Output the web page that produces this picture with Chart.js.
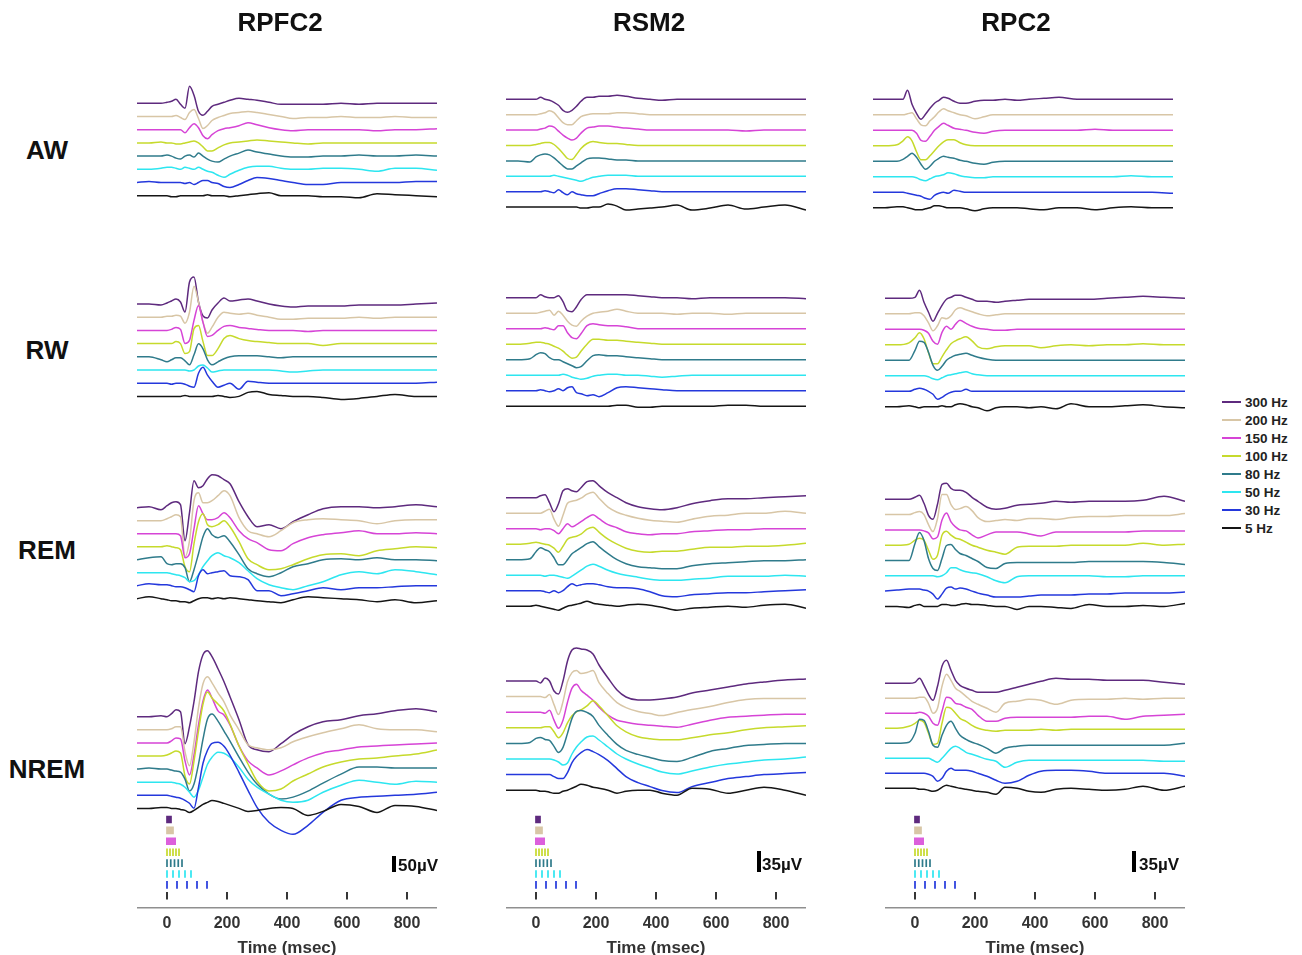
<!DOCTYPE html>
<html>
<head>
<meta charset="utf-8">
<script src="https://cdn.jsdelivr.net/npm/chart.js@4.4.1/dist/chart.umd.min.js"></script>
<style>
  body { margin: 0; background: #fff; width: 1302px; height: 955px; position: relative; overflow: hidden;
         font-family: "Liberation Sans", Arial, sans-serif; }
  canvas { position: absolute; }
  .lbl { position: absolute; font-weight: bold; color: #111; white-space: nowrap; transform: translate(-50%, -50%); }
  .bar { position: absolute; background: #000; }
  .sb { position: absolute; font-weight: bold; font-size: 17px; line-height: 16px; color: #111; }
  .leg { position: absolute; font-weight: bold; font-size: 13.5px; line-height: 13px; color: #222; }
  .legline { position: absolute; height: 1.5px; width: 19px; }
</style>
</head>
<body>
<script>
// ---- data ----
const timesMs = [-100,-60,-20,0,15,30,45,60,75,90,105,120,135,150,170,190,210,240,270,300,340,380,420,470,520,580,640,700,760,830,900];
const freqLabels = ['300 Hz','200 Hz','150 Hz','100 Hz','80 Hz','50 Hz','30 Hz','5 Hz'];
const pulseRatesHz = [300,200,150,100,80,50,30,5];
const timeTicks = [0,200,400,600,800];
const regionNames = ['RPFC2','RSM2','RPC2'];
const stateNames = ['AW','RW','REM','NREM'];
const scaleBarLabels = ['50µV','35µV','35µV'];

// deflection from each trace's baseline (screen px at the plot's scale, up = positive), one row per frequency
const rpfc2AW = [
  [0,0,0,1,2,4,-1,-5,17,8,-8,-12,-8,-3,-1,1,3,5,4,3,1,-1,-1,-1,-1,0,-1,0,0,0,0],
  [0,0,0,0,0,1,-1,-3,4,7,-2,-12,-9,-4,-1,1,3,4,5,4,2,0,-2,-1,-1,0,-1,-1,0,-1,-1],
  [0,0,0,0,0,0,0,-3,2,6,2,-6,-9,-5,-1,1,2,4,7,5,2,0,-1,0,0,0,0,-1,0,0,1],
  [0,0,1,0,0,-1,-1,0,1,2,0,-4,-8,-8,-5,-2,0,1,2,3,2,1,0,-1,0,0,0,0,0,0,0],
  [0,0,0,1,0,-2,-3,0,1,-1,3,0,-3,-5,-6,-3,0,3,6,4,2,0,-1,-1,0,0,1,0,0,1,0],
  [0,0,1,2,2,1,0,2,1,0,2,0,-2,-3,-6,-8,-5,-1,2,3,3,1,0,0,1,1,0,-2,1,1,-1],
  [0,1,0,0,0,0,0,-1,0,-2,0,2,2,0,-1,-4,-5,-2,2,5,4,2,0,-2,-2,0,0,0,0,1,1],
  [0,0,0,0,-1,-1,0,0,0,0,0,0,1,0,0,0,-1,0,1,2,3,0,0,0,-1,-1,-2,2,1,0,-1]
];
const rsm2AW = [
  [0,0,0,0,2,0,-1,-3,-6,-11,-13,-11,-7,-2,2,2,3,3,4,3,1,0,-1,0,0,0,0,0,0,0,0],
  [0,0,0,0,1,2,4,2,-3,-8,-10,-10,-6,-2,0,1,1,1,2,2,1,0,0,0,0,0,0,0,0,0,0],
  [0,0,0,0,1,2,4,3,-1,-5,-8,-10,-8,-3,2,3,4,4,3,2,1,0,0,0,0,0,0,-1,0,0,0],
  [0,0,0,1,2,3,3,1,-3,-8,-13,-14,-9,-3,2,4,3,2,2,1,0,0,0,0,0,0,0,0,0,0,0],
  [0,0,-1,4,6,7,6,3,-1,-5,-8,-8,-5,-2,2,3,3,2,1,1,0,0,0,0,0,0,0,0,0,0,0],
  [0,0,0,0,0,0,0,1,0,-1,-2,-3,-4,-5,-3,-1,0,1,1,1,0,0,0,0,0,0,0,0,0,0,0],
  [0,0,0,0,0,1,0,-1,2,-1,-3,0,-2,-3,-4,-4,-2,1,3,3,2,1,0,0,0,0,0,0,0,0,0],
  [0,0,0,0,0,0,0,0,0,0,0,0,0,-1,-1,0,0,3,1,-3,-2,-1,0,2,-3,-1,2,-2,0,2,-3]
];
const rpc2AW = [
  [0,0,0,0,9,-5,-14,-20,-15,-9,-4,-1,2,1,-2,-4,-4,-2,-1,-1,0,-1,0,1,2,0,0,0,0,0,0],
  [0,0,0,0,1,2,-4,-10,-11,-6,-2,3,6,4,2,0,-1,-4,-2,0,0,0,0,0,0,0,0,0,0,0,0],
  [0,0,0,0,0,0,-3,-10,-11,-6,0,4,7,5,2,1,0,-2,-3,-1,0,0,0,0,0,0,1,0,0,0,0],
  [0,0,1,5,9,5,-6,-14,-14,-10,-5,0,4,6,6,3,1,0,0,0,0,0,0,0,0,0,0,0,0,0,0],
  [0,0,0,2,5,8,4,-3,-8,-5,0,3,5,4,3,1,0,-2,-3,-1,0,0,0,0,0,0,0,0,0,0,0],
  [0,0,0,0,0,0,-1,-3,-4,-2,0,1,2,4,3,1,0,-1,-1,0,0,0,0,0,0,0,0,0,1,0,0],
  [0,0,0,0,-1,-2,-3,-4,-6,-7,-3,-1,0,-1,2,1,0,0,0,0,0,0,0,0,0,0,0,0,0,0,-1],
  [0,0,1,1,0,-1,-2,-2,-1,0,2,2,1,0,0,0,-1,-3,-1,0,0,0,-1,-2,0,0,-2,0,1,0,0]
];
const rpfc2RW = [
  [0,0,-1,1,3,5,2,-8,22,27,2,-12,-14,-6,1,6,3,4,5,3,0,-2,-3,-2,-2,-2,-1,-1,-1,0,1],
  [0,0,0,1,1,2,1,-6,5,31,15,-5,-16,-10,0,5,4,3,4,2,0,-2,-2,-1,-1,-1,0,-1,0,0,0],
  [0,0,0,0,1,3,1,-13,-10,10,25,8,-6,-5,0,4,5,3,2,1,0,0,0,-1,0,0,0,0,0,0,0],
  [0,0,0,0,0,2,0,-10,-8,15,18,2,-12,-12,-5,5,8,5,3,2,1,0,0,0,-2,0,0,0,0,0,0],
  [0,0,-3,-5,-3,-1,-1,-4,-8,2,13,8,-3,-8,-5,-2,0,1,1,1,0,-1,0,0,0,0,0,0,0,0,0],
  [0,0,0,0,0,0,0,0,-1,0,4,5,2,-2,-1,0,0,0,0,0,0,-1,-2,-1,0,0,0,0,0,0,0],
  [0,0,0,0,-1,0,0,-1,-3,-4,10,16,8,2,-4,-2,0,-6,2,1,0,0,0,0,0,0,0,0,0,0,1],
  [0,0,0,0,0,0,0,1,0,0,0,0,0,0,1,0,-1,0,4,5,2,1,0,0,-1,-3,-2,0,2,0,0]
];
const rsm2RW = [
  [0,0,0,0,3,1,0,0,2,-4,-13,-14,-9,-2,3,3,3,3,3,3,2,1,0,0,-1,0,0,0,0,0,-1],
  [0,0,0,0,1,2,3,-2,2,-2,-8,-12,-13,-8,-3,0,1,2,4,2,0,0,0,-1,0,0,-1,0,0,0,0],
  [0,0,0,0,0,1,0,-1,3,3,-4,-9,-10,-5,3,5,4,3,3,2,0,0,0,0,0,0,0,0,0,0,0],
  [0,0,1,2,2,1,0,-2,-4,-7,-11,-14,-13,-7,0,5,5,4,4,3,2,1,0,0,0,0,0,0,0,0,0],
  [0,0,1,5,7,6,2,0,0,-2,-4,-6,-8,-7,-1,4,5,4,4,3,2,1,0,0,0,0,0,0,0,0,0],
  [0,0,0,0,0,0,0,0,0,1,0,-2,-3,-4,-3,-1,0,1,1,0,0,-1,-2,-1,0,0,0,0,0,0,0],
  [0,0,0,0,1,0,-1,0,2,0,3,4,-2,-3,-5,-4,-6,-2,3,4,3,2,1,0,0,0,0,0,0,0,0],
  [0,0,0,0,0,0,0,0,0,0,0,0,0,0,0,0,0,0,1,1,-1,-1,0,0,0,0,1,1,0,0,0]
];
const rpc2RW = [
  [0,0,0,1,8,-4,-14,-23,-15,-7,-1,1,3,3,1,-1,-3,-3,-4,-3,-2,-1,-1,-1,-1,-1,0,1,2,1,0],
  [0,0,0,1,1,-2,-9,-17,-12,-4,-5,-2,4,6,4,2,0,-2,-1,0,0,0,0,0,0,0,0,0,0,0,0],
  [0,0,0,0,0,-1,-4,-12,-15,-3,3,0,5,9,6,3,1,0,-1,-1,0,0,0,0,0,0,0,0,0,0,0],
  [0,0,2,7,12,6,-8,-19,-19,-12,-5,1,4,6,8,4,-2,-4,-2,-1,-1,-1,-3,-1,0,-1,0,0,1,0,0],
  [0,0,0,10,19,18,8,-5,-10,-6,0,3,5,6,7,5,3,1,0,0,0,0,0,0,0,0,0,0,0,0,0],
  [0,0,0,0,0,0,-1,-3,-4,-2,0,1,2,3,4,2,1,0,0,0,0,0,0,0,0,0,0,0,0,0,0],
  [0,0,0,2,3,2,0,-3,-8,-6,-3,-1,0,0,2,0,0,0,0,0,0,0,0,0,0,0,0,0,0,0,0],
  [0,0,1,0,-1,0,0,0,0,1,0,0,2,3,2,0,-1,-4,-1,0,0,-1,0,-2,3,0,0,1,2,0,-1]
];
const rpfc2REM = [
  [0,1,-2,2,5,6,3,-33,-5,27,20,22,29,33,32,28,24,6,-9,-19,-17,-21,-14,-7,-1,1,1,0,1,3,1],
  [0,0,0,2,4,6,4,-36,-20,20,28,18,18,20,25,30,25,3,-10,-13,-16,-10,-2,1,2,1,0,-3,0,1,1],
  [0,0,0,0,0,0,-2,-24,-20,5,28,20,14,14,16,21,16,3,-5,-9,-16,-17,-10,-4,-1,1,3,0,0,1,0],
  [0,0,0,1,0,-1,-3,-20,-25,3,25,33,22,20,22,26,20,5,-12,-18,-23,-22,-18,-12,-8,-7,-9,-4,-2,0,-1],
  [0,2,3,-4,-5,-4,-4,-8,-22,-10,6,23,31,25,22,24,18,5,-9,-14,-17,-13,-7,-4,0,1,0,2,0,0,-1],
  [0,0,0,0,-1,-2,-3,-5,-9,-8,-2,6,12,17,20,17,15,10,2,-6,-12,-15,-17,-13,-9,-2,1,-1,3,1,-2],
  [0,2,1,1,0,-1,-1,-2,-4,-6,10,16,12,13,14,15,10,9,6,-5,-5,-10,-8,-5,-2,-4,-2,-2,-1,0,0],
  [0,2,0,-1,-2,-2,-3,-3,-4,-2,0,1,1,0,1,0,1,0,-1,-2,-3,-4,-1,2,1,0,-1,-3,-1,-4,-2]
];
const rsm2REM = [
  [0,0,0,0,2,3,-5,-14,-6,7,9,7,6,10,16,17,12,5,0,-5,-9,-11,-12,-10,-6,-3,-1,-1,0,1,2],
  [0,0,0,0,0,2,4,-6,-13,-2,10,12,13,15,19,21,15,6,1,-2,-5,-7,-8,-9,-6,-3,-2,0,0,2,0],
  [0,0,0,0,-1,0,0,-2,-5,0,5,2,4,7,11,14,10,4,1,-3,-5,-6,-5,-5,-3,-2,-1,-1,0,0,0],
  [0,0,1,2,1,0,-1,-4,-8,-2,5,7,8,10,15,17,12,5,0,-4,-7,-8,-7,-7,-5,-3,-3,-2,-2,-1,1],
  [0,0,1,8,12,10,8,2,-5,-5,0,6,9,12,16,18,13,6,0,-4,-7,-8,-9,-9,-6,-4,-3,-2,-1,-1,0],
  [0,0,0,0,0,-1,0,0,-1,-2,-3,-1,2,5,9,11,9,5,2,0,-2,-4,-5,-5,-4,-3,-1,-1,-1,0,-1],
  [0,0,0,0,0,-1,-2,0,-2,0,4,7,5,6,7,7,6,4,3,3,2,-1,-5,-6,-4,-3,-2,-2,-1,0,1],
  [0,0,0,1,0,-1,-2,-3,-4,-2,0,1,2,3,5,3,2,1,0,1,2,1,-1,-4,-2,-1,0,-1,1,2,-2]
];
const rpc2REM = [
  [0,0,0,2,4,-4,-16,-20,-5,15,16,11,9,9,7,2,-2,-8,-10,-9,-6,-5,-4,-2,-3,-2,-2,-2,-1,3,-2],
  [0,0,0,2,3,0,-10,-17,-4,20,20,10,5,6,8,4,-3,-7,-6,-5,-6,-4,-4,-5,-3,-2,-2,-1,-1,-1,1],
  [0,0,0,0,0,-1,-3,-9,-7,10,17,8,3,0,-1,-5,-8,-5,-2,-2,-2,-4,-6,-2,-2,-2,-2,-2,-1,-1,-1],
  [0,0,1,5,7,5,-5,-14,-10,10,14,10,7,6,3,0,-2,-5,-7,-9,-2,-1,-1,-1,0,0,0,0,2,0,1],
  [0,0,0,17,28,20,2,-8,-10,2,15,16,11,7,5,2,-1,-7,-8,-3,-2,-2,-2,-2,-2,-1,-1,-1,-1,-2,-4],
  [0,0,0,0,0,0,0,0,-1,0,3,8,8,6,4,3,2,-1,-5,-7,-1,0,0,0,0,0,-1,-1,0,0,0],
  [0,1,2,2,2,1,0,-3,-8,-3,3,4,2,3,2,0,-2,-4,-6,-6,-6,-5,-4,-4,-4,-3,-3,-2,-2,-2,-1],
  [0,0,-1,1,2,0,0,0,0,2,2,1,1,2,3,2,2,1,0,0,-3,0,0,-1,-2,2,0,0,1,0,3]
];
const rpfc2NREM = [
  [0,0,1,0,3,7,5,-27,-10,15,45,62,66,60,48,35,20,-3,-28,-33,-35,-27,-18,-10,-5,-3,1,3,6,8,5],
  [0,0,0,0,1,3,3,-22,-36,-12,22,46,53,47,37,28,15,0,-15,-18,-20,-18,-12,-7,-3,1,5,1,0,0,-2],
  [0,0,0,0,2,5,4,-18,-32,-12,18,42,53,45,32,28,18,-3,-18,-25,-32,-28,-22,-15,-10,-7,-4,-3,-2,-1,0],
  [0,0,0,1,3,5,3,-20,-28,-5,25,52,64,58,52,45,32,10,-8,-25,-35,-33,-25,-18,-11,-6,-3,-2,0,2,6],
  [0,1,0,0,-1,-2,-3,-10,-22,-15,5,30,50,55,48,38,28,12,-3,-15,-25,-30,-28,-22,-14,-5,2,2,1,1,1],
  [0,0,0,0,0,-1,-2,-5,-10,-15,-8,5,18,25,30,29,25,15,3,-5,-12,-18,-20,-18,-10,-3,2,0,-2,1,0],
  [0,0,0,0,-1,-2,-3,-5,-8,-13,8,32,45,52,53,49,40,23,5,-12,-27,-35,-39,-30,-17,-5,-2,-1,0,1,3],
  [0,0,1,1,0,0,-1,-2,-4,-2,1,4,6,8,7,5,3,0,-3,-2,0,1,0,-7,-3,4,2,-4,3,2,-2]
];
const rsm2NREM = [
  [0,0,0,0,-2,3,0,-10,-13,0,20,31,33,32,31,27,16,3,-9,-16,-19,-19,-18,-16,-12,-9,-6,-3,-1,1,2],
  [0,0,0,0,0,-1,2,-8,-18,-5,15,24,26,23,24,26,14,3,-6,-11,-15,-17,-19,-16,-13,-10,-6,-3,-2,-2,-2],
  [0,0,0,0,0,-1,2,-8,-16,-8,10,24,28,22,17,12,5,-3,-8,-10,-12,-13,-14,-15,-12,-8,-5,-4,-3,-2,-2],
  [0,0,0,0,0,1,1,-4,-10,-5,5,12,16,18,22,27,22,12,2,-4,-9,-11,-12,-12,-10,-7,-5,-2,0,1,2],
  [0,0,1,5,6,4,3,-3,-9,-4,10,25,32,33,31,27,18,8,-1,-7,-11,-14,-17,-18,-14,-8,-5,-2,-1,0,0],
  [0,0,0,0,0,0,0,-1,-3,-6,-4,5,12,17,22,23,19,12,5,0,-5,-9,-13,-15,-12,-8,-5,-3,-1,0,2],
  [0,0,0,0,0,0,0,-2,-4,-4,2,12,18,22,25,23,20,14,6,-2,-8,-12,-16,-18,-12,-8,-4,-2,0,1,2],
  [0,0,0,0,-1,-1,-2,-3,-3,-1,0,2,4,6,5,3,2,0,-3,-1,0,0,-3,-5,2,1,-3,0,3,0,-5]
];
const rpc2NREM = [
  [0,0,0,1,5,-2,-11,-17,-3,17,23,13,3,-2,-5,-7,-9,-9,-9,-7,-4,-1,2,5,4,4,3,3,3,1,-1],
  [0,0,0,0,1,1,-5,-15,-10,12,24,18,10,7,2,-3,-6,-10,-14,-5,-3,-1,-2,-6,-2,-1,-1,0,-1,0,0],
  [0,0,0,0,1,0,-3,-10,-12,2,16,15,10,9,6,4,-2,-8,-8,-5,-4,-4,-4,-4,-4,-3,-3,-6,-3,-2,-1],
  [0,0,2,5,8,6,-5,-16,-15,5,21,20,15,10,7,3,0,-2,-3,-2,-2,-2,-1,-2,-1,-1,-1,-1,-1,-1,-1],
  [0,0,1,10,24,23,12,-2,-4,8,18,22,15,8,4,1,-1,-5,-10,-5,-3,-2,-2,-2,-2,-2,-2,-2,-2,-2,0],
  [0,0,0,0,0,0,0,-2,-4,0,5,10,12,10,6,4,2,-1,-3,-9,-4,-2,-2,-2,-2,-2,-2,-2,-2,-3,-3],
  [0,0,0,0,0,0,-1,-3,-8,-5,2,5,3,3,3,2,0,-3,-7,-10,-8,-2,2,3,3,2,0,0,0,0,-3],
  [0,0,0,0,-1,-1,-2,-3,-2,1,3,2,1,0,-1,-2,-3,-4,-6,1,0,-3,-4,-1,0,-1,-2,-1,2,-2,2]
];

// ---- layout / styles ----
const traceColors = ['#5e2a7e','#d8c6a6','#d644d6','#c6da2c','#2f7b8b','#2de6f0','#2438dc','#151515'];
const colX = [137, 506, 885];
const colCenter = [280, 649, 1016];
const rowCenter = [150, 350, 550, 769];

const panels = [
  { amp: rpfc2AW,  x: 137, y0: 103.3, dy: 13.2 },
  { amp: rsm2AW,   x: 506, y0: 99.3,  dy: 15.4 },
  { amp: rpc2AW,   x: 873, y0: 99.3,  dy: 15.5 },
  { amp: rpfc2RW,  x: 137, y0: 304,   dy: 13.2 },
  { amp: rsm2RW,   x: 506, y0: 297.7, dy: 15.5 },
  { amp: rpc2RW,   x: 885, y0: 298.3, dy: 15.5 },
  { amp: rpfc2REM, x: 137, y0: 507.7, dy: 13 },
  { amp: rsm2REM,  x: 506, y0: 497.7, dy: 15.5 },
  { amp: rpc2REM,  x: 885, y0: 499.3, dy: 15.3 },
  { amp: rpfc2NREM,x: 137, y0: 716.7, dy: 13.1 },
  { amp: rsm2NREM, x: 506, y0: 681,   dy: 15.6 },
  { amp: rpc2NREM, x: 885, y0: 683.3, dy: 15 }
];

Chart.defaults.font.family = '"Liberation Sans", Arial, sans-serif';

function makeCanvas(left, top, w, h) {
  const cv = document.createElement('canvas');
  cv.width = w; cv.height = h;
  cv.style.left = left + 'px'; cv.style.top = top + 'px';
  document.body.appendChild(cv);
  return cv;
}

function addLabel(cls, text, x, y, size) {
  const d = document.createElement('div');
  d.className = cls; d.textContent = text;
  d.style.left = x + 'px'; d.style.top = y + 'px';
  if (size) d.style.fontSize = size + 'px';
  document.body.appendChild(d);
  return d;
}

const baseOpts = {
  responsive: false, animation: false, devicePixelRatio: 1,
  layout: { padding: 0 },
  plugins: { legend: { display: false }, tooltip: { enabled: false } },
  elements: { point: { radius: 0 } }
};

function drawPanel(p) {
  const top = Math.round(p.y0 - 75);
  const h = Math.round(p.dy * 7 + 130);
  const cv = makeCanvas(p.x, top, 300, h);
  new Chart(cv, {
    type: 'line',
    data: {
      datasets: p.amp.map((a, k) => ({
        label: freqLabels[k],
        data: timesMs.map((t, i) => ({ x: t, y: top - (p.y0 + k * p.dy) + a[i] })),
        borderColor: traceColors[k], borderWidth: 1.5,
        cubicInterpolationMode: 'monotone', fill: false, order: 7 - k
      }))
    },
    options: Object.assign({}, baseOpts, {
      scales: {
        x: { type: 'linear', display: false, min: -100, max: 900 },
        y: { display: false, min: -h, max: 0 }
      }
    })
  });
}

function drawStim(c) {
  const cv = makeCanvas(colX[c], 810, 300, 147);
  const datasets = pulseRatesHz.map((hz, k) => {
    const mid = 9.5 + k * 10.9;
    const pts = [];
    for (let n = 0; n < 5; n++) {
      const t = n * 1000 / hz;
      pts.push({ x: t, y: mid - 3.8 }, { x: t, y: mid + 3.8 }, { x: t, y: null });
    }
    return { data: pts, borderColor: traceColors[k], borderWidth: 1.7, spanGaps: false };
  });
  new Chart(cv, {
    type: 'line',
    data: { datasets },
    options: Object.assign({}, baseOpts, {
      scales: {
        x: {
          type: 'linear', min: -100, max: 900,
          afterBuildTicks: (ax) => { ax.ticks = timeTicks.map(v => ({ value: v })); },
          grid: { display: false, drawTicks: false },
          border: { display: true, color: '#8f8f8f', width: 1.5 },
          ticks: { padding: 8, color: '#333', font: { size: 16, weight: 'bold', lineHeight: 1 } },
          title: { display: true, text: 'Time (msec)', color: '#333', padding: { top: 0, bottom: 0 },
                   font: { size: 17, weight: 'bold', lineHeight: 1 } }
        },
        y: { display: false, min: 0, max: 98, reverse: true }
      }
    })
  });
}

panels.forEach(drawPanel);
[0, 1, 2].forEach(drawStim);

// titles and row labels
regionNames.forEach((n, c) => addLabel('lbl', n, colCenter[c], 22, 26));
stateNames.forEach((n, r) => addLabel('lbl', n, 47, rowCenter[r], 26));

// scale bars
const bars = [
  { x: 392, top: 856, h: 16, tx: 398, ty: 857.5 },
  { x: 757, top: 851, h: 21, tx: 762, ty: 857 },
  { x: 1132, top: 851, h: 21, tx: 1139, ty: 857 }
];
bars.forEach((b, c) => {
  const d = document.createElement('div');
  d.className = 'bar';
  d.style.left = b.x + 'px'; d.style.top = b.top + 'px';
  d.style.width = '3.5px'; d.style.height = b.h + 'px';
  document.body.appendChild(d);
  addLabel('sb', scaleBarLabels[c], b.tx, b.ty);
});

// legend
freqLabels.forEach((lab, k) => {
  const y = 402 + k * 18;
  const ln = document.createElement('div');
  ln.className = 'legline';
  ln.style.left = '1222px'; ln.style.top = (y - 0.75) + 'px';
  ln.style.background = traceColors[k];
  document.body.appendChild(ln);
  addLabel('leg', lab, 1245, y - 6.5);
});
</script>
</body>
</html>
